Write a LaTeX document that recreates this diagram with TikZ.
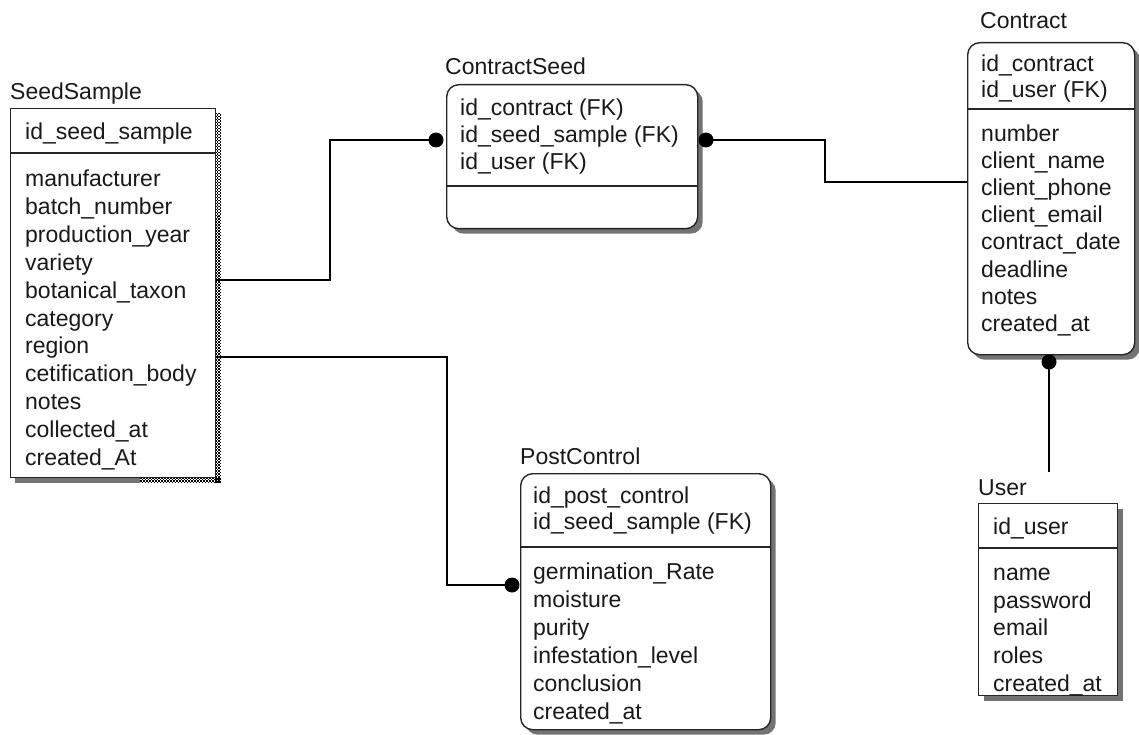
\documentclass[tikz,border=0pt]{standalone}
\usepackage{fontspec}
\setmainfont{Liberation Sans}
\usetikzlibrary{shadows}
\begin{document}
\begin{tikzpicture}[x=1pt,y=-1pt,
  tbl/.style={draw=black!85, line width=1.4pt, fill=white, inner sep=0pt, anchor=north west},
  rtbl/.style={tbl, rounded corners=12pt},
  shade/.style={copy shadow={shadow xshift=5pt, shadow yshift=-5pt, fill=black!55, draw=none}},
  fld/.style={anchor=base west, inner sep=0pt, text=black!90, font=\fontsize{23}{27}\selectfont, yshift=-8.5pt},
  ttl/.style={fld},
  dot/.style={circle, fill=black, inner sep=0pt, minimum size=15pt},
  link/.style={draw=black, line width=1.4pt},
  sep/.style={draw=black!85, line width=1.4pt}]
\useasboundingbox (0,0) rectangle (1139,735);

% ---------- SeedSample (selected: checkered shadow) ----------
\fill[black!55] (15,477) rectangle (140,483);
\foreach \c [count=\k from 0] in {215.75,217.25,218.75,220.25}
  \draw[line width=1.5pt, dash pattern=on 1.5pt off 1.5pt, dash phase=1.5*\k pt] (\c,113) -- (\c,483);
\foreach \r [count=\k from 0] in {477.75,479.25,480.75,482.25}
  \draw[line width=1.5pt, dash pattern=on 1.5pt off 1.5pt, dash phase=1.5*\k pt] (140,\r) -- (221,\r);
\node[tbl, minimum width=205pt, minimum height=369pt] (seed) at (10,108) {};
\node[ttl] (seed-t) at (10,91) {SeedSample};
\draw[sep] (seed.west |- 0,153) -- (seed.east |- 0,153);
\node[fld] (seed-k0) at (25,131) {id\_seed\_sample};
\foreach \t [count=\i from 0] in {manufacturer,batch\_number,production\_year,variety,botanical\_taxon,category,region,cetification\_body,notes,collected\_at,created\_At}
  \node[fld] (seed-a\i) at (25,178+27.9*\i) {\t};

% ---------- ContractSeed ----------
\node[rtbl, shade, minimum width=251pt, minimum height=144pt] (cs) at (446,84) {};
\node[ttl] (cs-t) at (445,66) {ContractSeed};
\draw[sep] (cs.west |- 0,186) -- (cs.east |- 0,186);
\foreach \t [count=\i from 0] in {id\_contract (FK),id\_seed\_sample (FK),id\_user (FK)}
  \node[fld] (cs-k\i) at (460,107+27*\i) {\t};

% ---------- Contract ----------
\node[rtbl, shade, minimum width=167pt, minimum height=312pt] (ct) at (967,42) {};
\node[ttl] (ct-t) at (980,20) {Contract};
\draw[sep] (ct.west |- 0,109) -- (ct.east |- 0,109);
\foreach \t [count=\i from 0] in {id\_contract,id\_user (FK)}
  \node[fld] (ct-k\i) at (981,63+26*\i) {\t};
\foreach \t [count=\i from 0] in {number,client\_name,client\_phone,client\_email,contract\_date,deadline,notes,created\_at}
  \node[fld] (ct-a\i) at (981,133+27.1*\i) {\t};

% ---------- PostControl ----------
\node[rtbl, shade, minimum width=250pt, minimum height=256pt] (pc) at (520,473) {};
\node[ttl] (pc-t) at (520,456) {PostControl};
\draw[sep] (pc.west |- 0,547) -- (pc.east |- 0,547);
\foreach \t [count=\i from 0] in {id\_post\_control,id\_seed\_sample (FK)}
  \node[fld] (pc-k\i) at (533,495+26*\i) {\t};
\foreach \t [count=\i from 0] in {germination\_Rate,moisture,purity,infestation\_level,conclusion,created\_at}
  \node[fld] (pc-a\i) at (533,571+28*\i) {\t};

% ---------- User ----------
\node[tbl, shade, minimum width=139pt, minimum height=192pt] (usr) at (978,503) {};
\node[ttl] (usr-t) at (978,487) {User};
\draw[sep] (usr.west |- 0,548) -- (usr.east |- 0,548);
\node[fld] (usr-k0) at (993,526) {id\_user};
\foreach \t [count=\i from 0] in {name,password,email,roles,created\_at}
  \node[fld] (usr-a\i) at (993,572+27.7*\i) {\t};

% ---------- relationships ----------
\node[dot] (cs-l) at (436,140) {};
\node[dot] (cs-r) at (706,140) {};
\node[dot] (pc-l) at (512,585) {};
\node[dot] (ct-b) at (1049,362) {};
\draw[link] (seed.east |- 0,280) -- (330,280) |- (cs-l.center);
\draw[link] (cs-r.center) -| (825,182) -- (ct.west |- 0,182);
\draw[link] (seed.east |- 0,357) -- (447,357) |- (pc-l.center);
\draw[link] (ct-b.center) -- (ct-b.center |- 0,472);
\end{tikzpicture}
\end{document}
